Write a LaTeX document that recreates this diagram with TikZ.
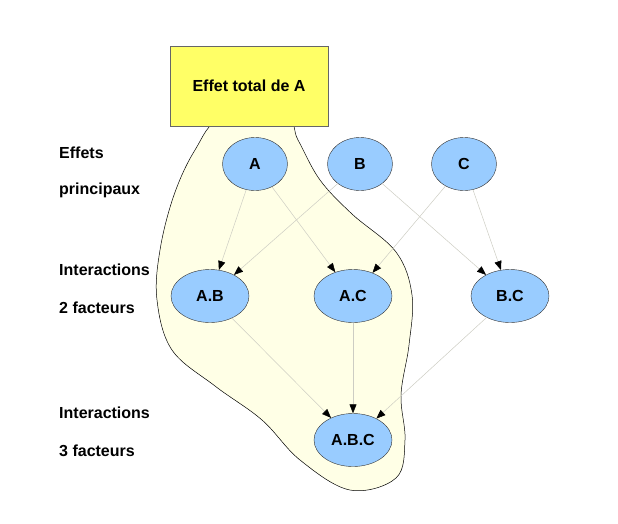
\documentclass[tikz,border=0pt]{standalone}
\usepackage{fontspec}
\setmainfont{Liberation Sans}
\usetikzlibrary{arrows.meta, shapes.geometric, positioning}
\definecolor{boxyellow}{RGB}{255,255,102}
\definecolor{blobcream}{RGB}{255,255,230}
\definecolor{factblue}{RGB}{153,204,255}
\definecolor{edgegray}{RGB}{205,205,195}

\begin{document}
\begin{tikzpicture}[x=1pt, y=-1pt,
    every node/.style={font=\fontsize{16}{19}\selectfont\bfseries},
    factor/.style={ellipse, draw=black!80, fill=factblue, minimum width=65pt, minimum height=53pt, inner sep=0pt},
    inter/.style={factor, minimum width=78pt},
    link/.style={draw=edgegray, line width=0.5pt, -{Triangle[length=9pt, width=7pt, color=black]}},
    rowlabel/.style={anchor=west, inner sep=0pt}]
    \useasboundingbox (0,0) rectangle (618,523);

    % Zone of the total effect of A
    \draw[fill=blobcream, line width=0.5pt] plot[smooth cycle, tension=0.6] coordinates {
        (222,118) (195,150) (174,195) (160,250) (157,300) (172,350) (215,386)
        (262,420) (300,460) (350,490) (396,478) (405,440) (401,395) (409,345)
        (412,295) (396,252) (352,214) (320,180) (298,140) (285,118)};

    % Title box
    \node[draw=black!60, fill=boxyellow, minimum width=158pt, minimum height=80pt] (total) at (249,86) {Effet total de A};

    % Row labels
    \node[rowlabel] (lab1) at (59,153) {Effets};
    \node[rowlabel] (lab2) at (59,190) {principaux};
    \node[rowlabel] (lab3) at (59,270) {Interactions};
    \node[rowlabel] (lab4) at (59,308) {2 facteurs};
    \node[rowlabel] (lab5) at (59,413) {Interactions};
    \node[rowlabel] (lab6) at (59,451) {3 facteurs};

    % Main effects
    \node[factor] (A) at (255,164) {A};
    \node[factor] (B) at (360,164) {B};
    \node[factor] (C) at (464,164) {C};

    % Interactions
    \node[inter] (AB) at (210,296) {A.B};
    \node[inter] (AC) at (353,296) {A.C};
    \node[inter] (BC) at (510,296) {B.C};
    \node[inter] (ABC) at (353,440) {A.B.C};

    \draw[link] (A) -- (AB);
    \draw[link] (A) -- (AC);
    \draw[link] (B) -- (AB);
    \draw[link] (B) -- (BC);
    \draw[link] (C) -- (AC);
    \draw[link] (C) -- (BC);
    \draw[link] (AB) -- (ABC);
    \draw[link] (AC) -- (ABC);
    \draw[link] (BC) -- (ABC);
\end{tikzpicture}
\end{document}
